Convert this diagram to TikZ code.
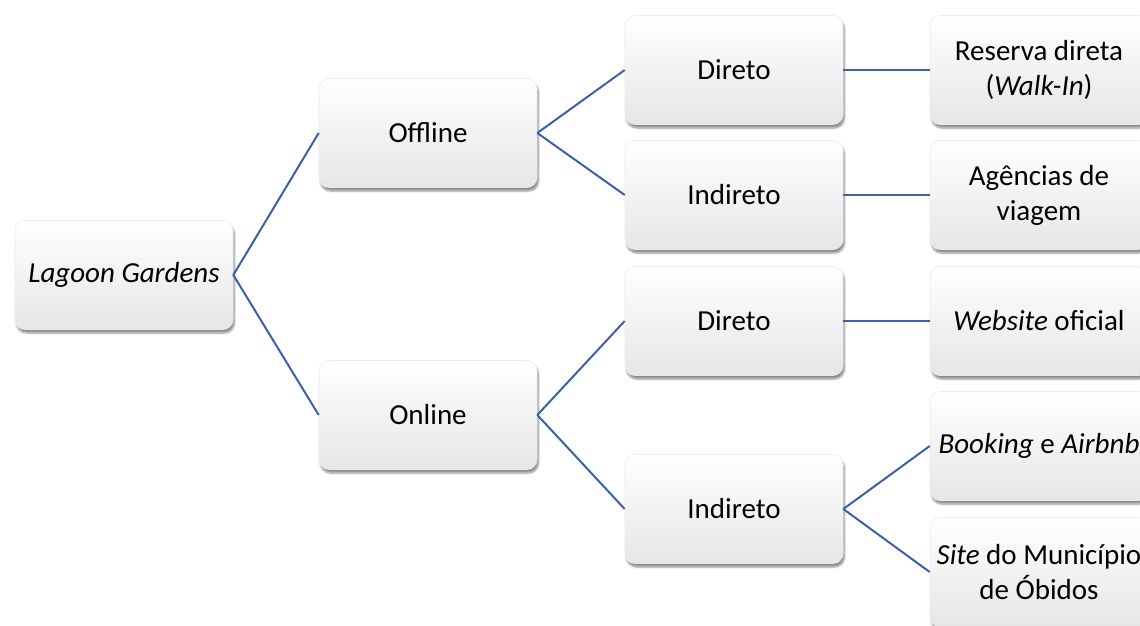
\documentclass[tikz,border=0pt]{standalone}
\usepackage{fontspec}
\setmainfont{Carlito}
\usetikzlibrary{shadows.blur}
\definecolor{linkblue}{RGB}{62,96,170}
\definecolor{boxgray}{RGB}{230,230,230}
\definecolor{boxedge}{RGB}{236,236,236}
\tikzset{
  box/.style={rectangle, rounded corners=10pt, minimum width=218pt, minimum height=109pt,
    inner sep=0pt, align=center, draw=boxedge, line width=0.6pt,
    top color=white, middle color=white, bottom color=boxgray,
    blur shadow={shadow xshift=1.5pt, shadow yshift=-3.5pt, shadow blur steps=6, shadow opacity=45},
    font=\fontsize{29}{35}\selectfont},
  link/.style={draw=linkblue, line width=2pt}
}
\begin{document}
\begin{tikzpicture}[x=1pt, y=-1pt]
\useasboundingbox (0,0) rectangle (1140,626);
% level 0
\node[box] (root) at (124,275) {\textit{Lagoon Gardens}};
% level 1
\node[box] (off) at (428,133) {Offline};
\node[box] (on)  at (428,415) {Online};
% level 2
\node[box] (offd) at (734,70)  {Direto};
\node[box] (offi) at (734,195) {Indireto};
\node[box] (ond)  at (734,321) {Direto};
\node[box] (oni)  at (734,509) {Indireto};
% level 3
\node[box] (walk) at (1039,70)  {Reserva direta\\(\textit{Walk-In})};
\node[box] (agen) at (1039,195) {Agências de\\viagem};
\node[box] (web)  at (1039,321) {\textit{Website} oficial};
\node[box] (book) at (1039,446) {\textit{Booking} e \textit{Airbnb}};
\node[box] (site) at (1039,572) {\textit{Site} do Município\\de Óbidos};
% connectors
\draw[link] (root.east) -- (off.west);
\draw[link] (root.east) -- (on.west);
\draw[link] (off.east) -- (offd.west);
\draw[link] (off.east) -- (offi.west);
\draw[link] (on.east) -- (ond.west);
\draw[link] (on.east) -- (oni.west);
\draw[link] (offd.east) -- (walk.west);
\draw[link] (offi.east) -- (agen.west);
\draw[link] (ond.east) -- (web.west);
\draw[link] (oni.east) -- (book.west);
\draw[link] (oni.east) -- (site.west);
\end{tikzpicture}
\end{document}
